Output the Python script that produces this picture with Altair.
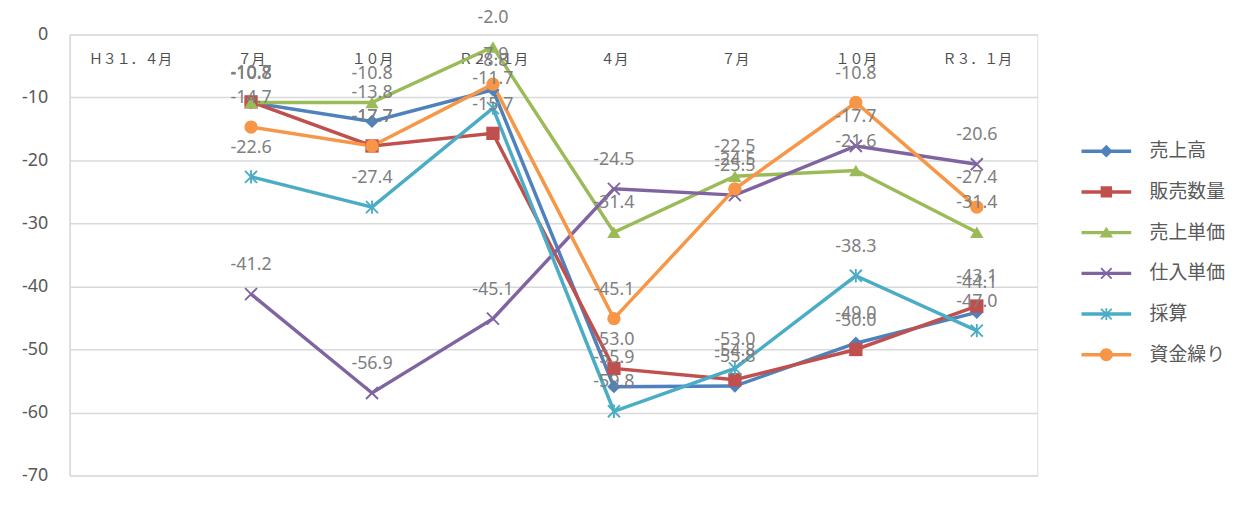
import altair as alt
import pandas as pd

# ---- data ----
periods = ["H31.4", "R1.7", "R1.10", "R2.1", "R2.4", "R2.7", "R2.10", "R3.1"]
tick_labels = ["Ｈ３１．４月", "７月", "１０月", "Ｒ２．１月", "４月", "７月", "１０月", "Ｒ３．１月"]
series_names = ["売上高", "販売数量", "売上単価", "仕入単価", "採算", "資金繰り"]

uriagedaka = [None, -10.8, -13.8, -8.8, -55.9, -55.8, -49.0, -44.1]
hanbai_suryo = [None, -10.7, -17.7, -15.7, -53.0, -54.8, -50.0, -43.1]
uriage_tanka = [None, -10.8, -10.8, -2.0, -31.4, -22.5, -21.6, -31.4]
shiire_tanka = [None, -41.2, -56.9, -45.1, -24.5, -25.5, -17.7, -20.6]
saisan = [None, -22.6, -27.4, -11.7, -59.8, -53.0, -38.3, -47.0]
shikinguri = [None, -14.7, -17.7, -7.9, -45.1, -24.5, -10.8, -27.4]

series_values = [uriagedaka, hanbai_suryo, uriage_tanka, shiire_tanka, saisan, shikinguri]
colors = ["#4F81BD", "#C0504D", "#9BBB59", "#8064A2", "#4BACC6", "#F79646"]

# marker shapes (unit paths)
X_PATH = "M-1,-0.8L-0.8,-1L1,0.8L0.8,1Z M-1,0.8L0.8,-1L1,-0.8L-0.8,1Z"
STAR_PATH = X_PATH + " M-0.14,-1H0.14V1H-0.14Z"
markers = ["diamond", "square", "triangle-up", X_PATH, STAR_PATH, "circle"]

LINE = "M-5,-0.35H5V0.35H-5Z "
legend_paths = [
    LINE + "M-1.3,0L0,-1.3L1.3,0L0,1.3Z",
    LINE + "M-1.15,-1.15H1.15V1.15H-1.15Z",
    LINE + "M0,-1.2L1.35,1L-1.35,1Z",
    LINE + "M-1.2,-0.95L-0.95,-1.2L1.2,0.95L0.95,1.2Z M-1.2,0.95L0.95,-1.2L1.2,-0.95L-0.95,1.2Z",
    LINE + "M-1.2,-0.95L-0.95,-1.2L1.2,0.95L0.95,1.2Z M-1.2,0.95L0.95,-1.2L1.2,-0.95L-0.95,1.2Z M-0.18,-1.2H0.18V1.2H-0.18Z",
    LINE + "M-1.3,0A1.3,1.3 0 1,1 1.3,0A1.3,1.3 0 1,1 -1.3,0Z",
]

rows = []
for s, vals, mk in zip(series_names, series_values, markers):
    for i, (p, v) in enumerate(zip(periods, vals)):
        if v is None:
            continue
        rows.append({"series": s, "period": p, "idx": i, "value": v,
                     "label": f"{v:.1f}", "marker": mk})
df = pd.DataFrame(rows)

label_expr = "[" + ",".join(f"'{t}'" for t in tick_labels) + "][indexof([" + \
    ",".join(f"'{p}'" for p in periods) + "], datum.value)]"

legend = alt.Legend(
    title=None, orient="none", legendX=1014, legendY=108,
    labelFont="Noto Sans CJK JP", labelFontSize=19, labelColor="#595959",
    symbolSize=100, symbolOffset=20, labelOffset=34, rowPadding=21, padding=0,
    symbolStrokeWidth=0, symbolOpacity=1, labelLimit=200,
)

color = alt.Color("series:N", scale=alt.Scale(domain=series_names, range=colors), legend=legend)

x = alt.X("period:O", scale=alt.Scale(domain=periods, padding=0.5), sort=periods,
          axis=alt.Axis(orient="top", title=None, ticks=False, tickSize=0, domain=False,
                        labelPadding=-25, labelBaseline="middle", labelAngle=0,
                        labelExpr=label_expr, labelFont="Noto Sans CJK JP",
                        labelFontSize=14, labelColor="#4d4d4d", grid=False))
y = alt.Y("value:Q", scale=alt.Scale(domain=[-70, 0], nice=False, zero=False),
          axis=alt.Axis(values=list(range(-70, 1, 10)), title=None, ticks=False,
                        domainColor="#d9d9d9", domainWidth=1.5,
                        gridColor="#d9d9d9", gridWidth=1.5,
                        labelFont="Noto Sans", labelFontSize=18, labelColor="#595959",
                        labelPadding=22, labelExpr="toString(datum.value)"))

base = alt.Chart(df)

# legend-only layer (no rows drawn): supplies line+marker legend symbols
legend_layer = base.transform_filter("false").mark_point(filled=True, opacity=1, strokeWidth=0).encode(
    x=x, y=y, color=color,
    shape=alt.Shape("series:N", scale=alt.Scale(domain=series_names, range=legend_paths), legend=legend),
)
lines = base.mark_line(strokeWidth=3.5).encode(x=x, y=y, color=color, order="idx:Q")
points = base.mark_point(filled=True, size=180, opacity=1, strokeWidth=0).encode(
    x=x, y=y, color=color, shape=alt.Shape("marker:N", scale=None))
labels = base.mark_text(dy=-29, fontSize=18, font="Noto Sans", color="#7f7f7f").encode(
    x=x, y=y, text="label:N")

chart = alt.layer(legend_layer, lines, points, labels).properties(
    width=974, height=444,
    padding={"left": 62, "top": 25, "right": 199, "bottom": 20},
    autosize=alt.AutoSizeParams(type="none"),
).configure_view(stroke=None).configure(background="white")

chart.save("out.html", embed_options={"renderer": "svg", "actions": False})
